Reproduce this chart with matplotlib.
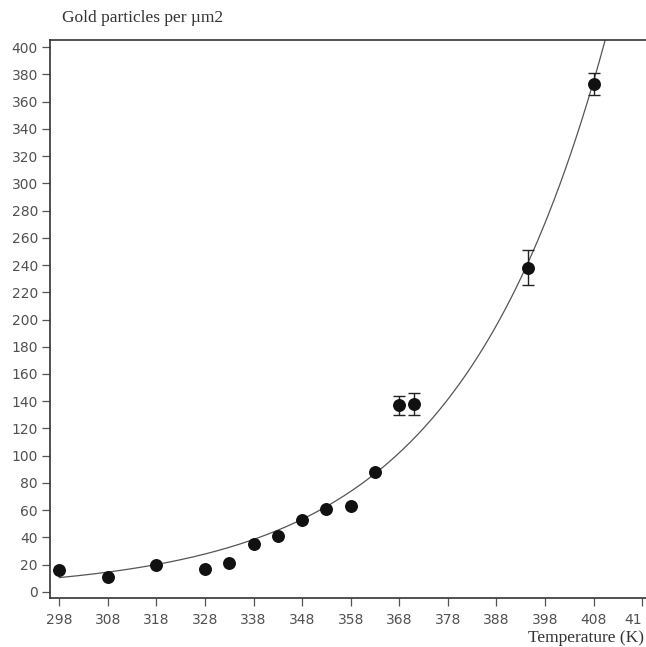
import numpy as np
import matplotlib
matplotlib.use("Agg")
import matplotlib.pyplot as plt

# Data
temperature = [298, 308, 318, 328, 333, 338, 343, 348, 353, 358, 363, 368, 371, 394.5, 408]
particles = [16, 11, 20, 17, 21, 35, 41, 53, 61, 63, 88, 137, 138, 238, 373]
errors = [0, 0, 0, 0, 0, 0, 0, 0, 0, 0, 0, 7, 8, 13, 8]

# exponential fit curve parameters
fit_a = 10.5
fit_b = 0.0325
fit_T0 = 298
fit_range = (298, 410.5)

x_ticks = [298, 308, 318, 328, 338, 348, 358, 368, 378, 388, 398, 408, 418]
x_ticklabels = ["298", "308", "318", "328", "338", "348", "358", "368", "378", "388", "398", "408", "41"]
y_ticks = list(range(0, 401, 20))

fig = plt.figure(figsize=(6.46, 6.47), dpi=100)
ax = fig.add_axes([0.078, 0.0757, 0.946, 0.862])

T = np.linspace(fit_range[0], fit_range[1], 300)
ax.plot(T, fit_a * np.exp(fit_b * (T - fit_T0)), color="#555555", lw=0.9, zorder=2)

ax.errorbar(temperature, particles, yerr=[e if e else np.nan for e in errors],
            fmt="o", color="#111111", ms=8.3, ecolor="#222222", elinewidth=1.0,
            capsize=4.5, capthick=1.0, zorder=3)

ax.set_xlim(296.15, 422)
ax.set_ylim(-4.5, 405)
ax.set_xticks(x_ticks)
ax.set_xticklabels(x_ticklabels)
ax.set_yticks(y_ticks)

# last (partially visible) tick label kept inside the figure
ax.get_xticklabels()[-1].set_horizontalalignment("right")

for s in ["left", "bottom", "top"]:
    ax.spines[s].set_color("#333333")
    ax.spines[s].set_linewidth(1.2)
ax.spines["right"].set_visible(False)

ax.tick_params(axis="both", direction="out", length=6, width=0.9, color="#555555",
               labelcolor="#505050", labelsize=10)
ax.tick_params(axis="y", pad=3)
ax.tick_params(axis="x", pad=5)

fig.text(0.096, 0.972, "Gold particles per \u00b5m2", family="Liberation Serif",
         fontsize=12.5, color="#333333", ha="left", va="center")
fig.text(0.997, 0.014, "Temperature (K)", family="Liberation Serif",
         fontsize=12.5, color="#333333", ha="right", va="center")

fig.savefig("out.png", dpi=100)
